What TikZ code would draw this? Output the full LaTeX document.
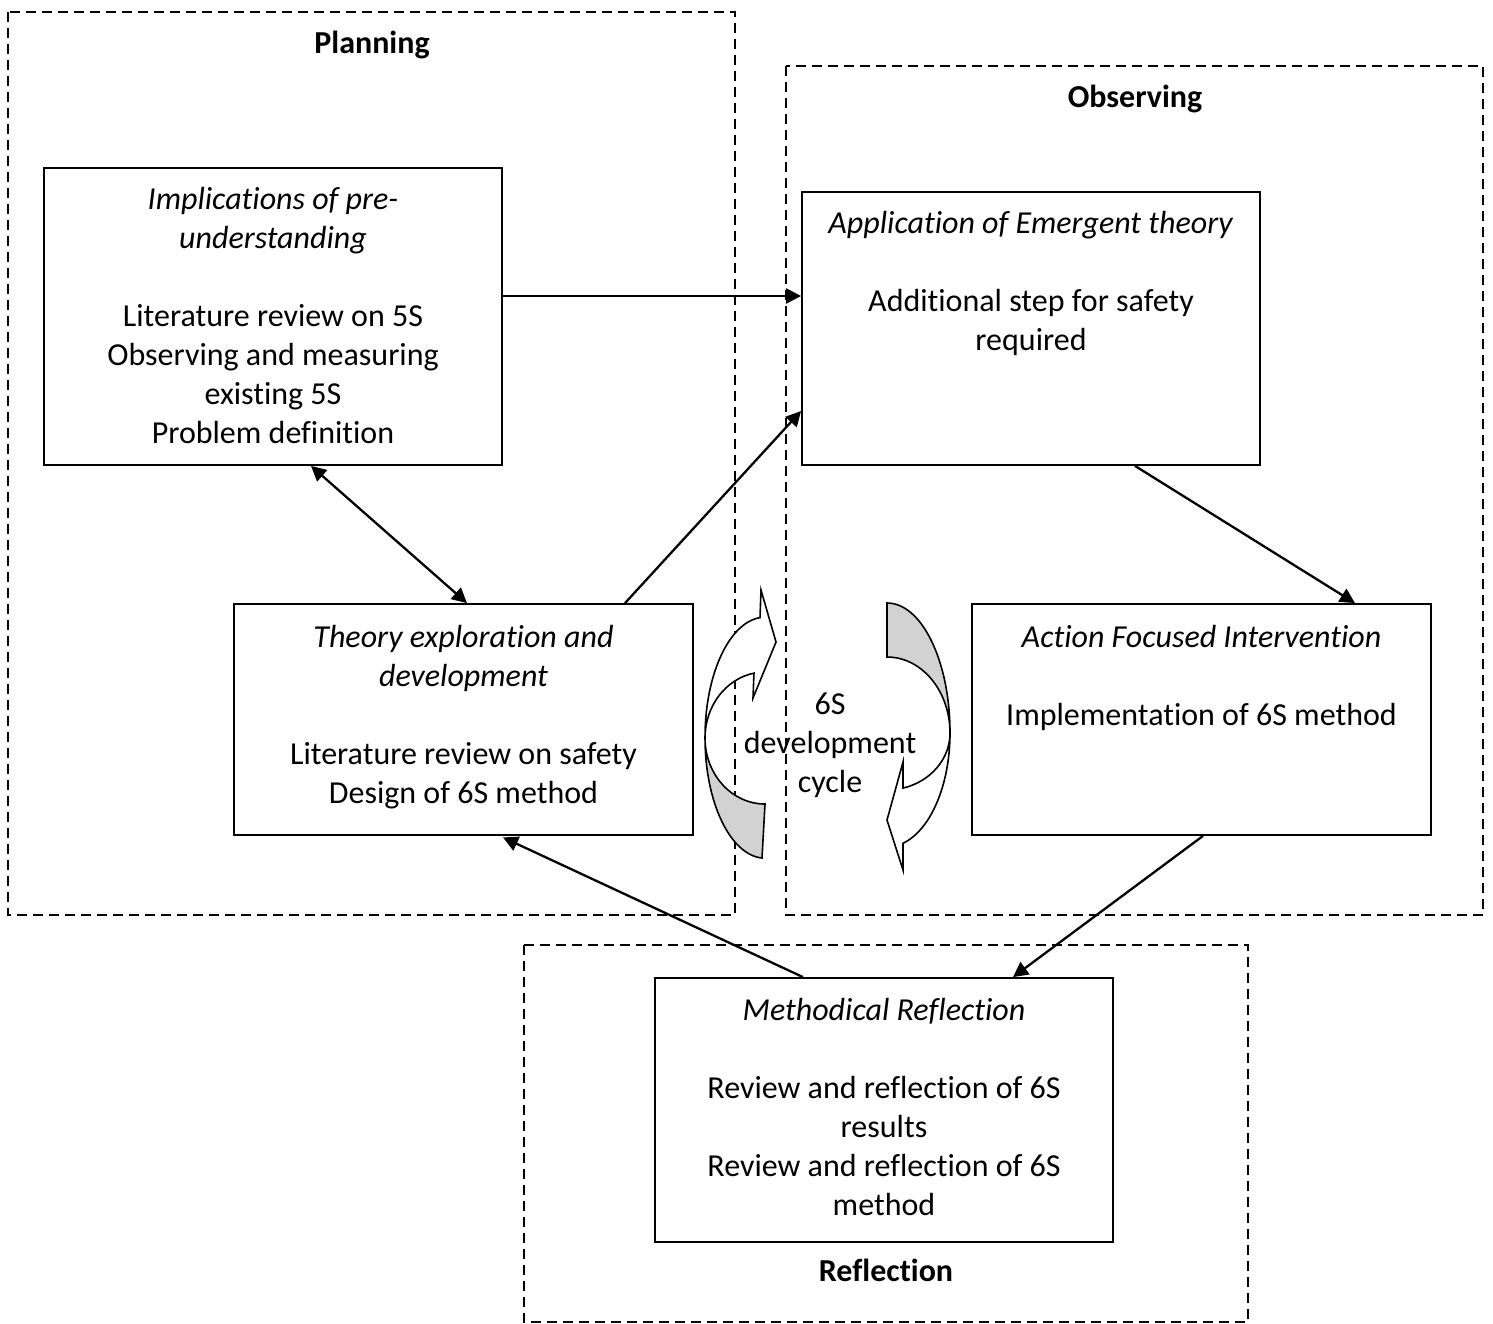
\documentclass[tikz,border=0pt]{standalone}
\usepackage{fontspec}
\setmainfont[Ligatures=NoCommon]{Carlito}
\usetikzlibrary{arrows.meta,calc}
\definecolor{bandgray}{RGB}{210,210,210}

\begin{document}
\begin{tikzpicture}[x=0.5pt,y=0.5pt,
  frame/.style={draw, dash pattern=on 5pt off 3pt, line width=0.7pt},
  box/.style={draw, line width=0.9pt, inner sep=0pt, minimum width=229pt},
  txt/.style={anchor=north, inner sep=0pt, align=center, font=\fontsize{16pt}{19.5pt}\selectfont},
  ttl/.style={anchor=base, inner sep=0pt, font=\fontsize{16pt}{19.5pt}\selectfont\bfseries},
  tip/.tip={Triangle[length=7.5pt,width=7.5pt]},
  link/.style={line width=1.15pt, -tip},
  band/.style={draw, line width=0.8pt, line join=miter},
]
\useasboundingbox (0,0) rectangle (1493,-1323);

% dashed phase frames
\draw[frame] (8,-12) rectangle (735,-915);
\draw[frame] (786,-66) rectangle (1483,-915);
\draw[frame] (524,-945) rectangle (1248,-1322);

\node[ttl] (planT) at (372,-53) {Planning};
\node[ttl] (obsT) at (1135,-107) {Observing};
\node[ttl] (refT) at (886,-1281) {Reflection};

% boxes
\node[box, minimum height=148.5pt] (impl) at (273,-316.5) {};
\node[box, minimum height=136.5pt] (appl) at (1031,-328.5) {};
\node[box, minimum width=229.5pt, minimum height=115.5pt] (theo) at (463.5,-719.5) {};
\node[box, minimum width=229.5pt, minimum height=115.5pt] (act) at (1201.5,-719.5) {};
\node[box, minimum height=132pt] (meth) at (884,-1110) {};

% box texts
\node[txt] (implT) at (273,-182) {\strut\textit{Implications of pre-}\\\textit{understanding}\\[19.5pt]
  Literature review on 5S\\Observing and measuring\\existing 5S\\Problem definition};
\node[txt] (applT) at (1031,-206) {\strut\textit{Application of Emergent theory}\\[19.5pt]
  Additional step for safety\\required};
\node[txt] (theoT) at (463.5,-620) {\strut\textit{Theory exploration and}\\\textit{development}\\[19.5pt]
  Literature review on safety\\Design of 6S method};
\node[txt] (actT) at (1201.5,-620) {\strut\textit{Action Focused Intervention}\\[19.5pt]
  Implementation of 6S method};
\node[txt] (methT) at (884,-993) {\strut\textit{Methodical Reflection}\\[19.5pt]
  Review and reflection of 6S\\results\\Review and reflection of 6S\\method};

% curved cycle arrow, left (pointing up and right)
\draw[band, fill=bandgray] (705,-738) arc[start angle=180, end angle=270, x radius=30pt, y radius=33pt]
  -- (762,-858) arc[start angle=267.1, end angle=180, x radius=30pt, y radius=60pt] -- cycle;
\draw[band, fill=white] (705,-738) arc[start angle=180, end angle=100.6, x radius=30pt, y radius=33pt]
  -- (753,-698) -- (776,-642) -- (761,-590) -- (760,-617.6)
  arc[start angle=94.8, end angle=180, x radius=30pt, y radius=60pt] -- cycle;

% curved cycle arrow, right (pointing down and left)
\draw[band, fill=bandgray] (887,-603) arc[start angle=90, end angle=0, x radius=31.5pt, y radius=65pt]
  arc[start angle=0, end angle=90, x radius=31.5pt, y radius=38pt] -- cycle;
\draw[band, fill=white] (950,-733) arc[start angle=0, end angle=-75.3, x radius=31.5pt, y radius=57pt]
  -- (903,-870) -- (887,-820) -- (903,-762) -- (903,-788.1)
  arc[start angle=-75.3, end angle=0, x radius=31.5pt, y radius=28.5pt] -- cycle;

\node[txt] (cyc) at (830,-687) {\strut 6S\\development\\cycle};

% connectors
\coordinate (ab) at ($(impl.east)+(0,20.5)$);
\draw[link] (ab) -- (ab -| appl.west);
\draw[link] ($(theo.north)+(161.5,0)$) -- ($(appl.west)+(0,-82.5)$);
\draw[link, tip-tip] ($(impl.south)+(38,0)$) -- ($(theo.north)+(3.5,0)$);
\draw[link] ($(appl.south)+(104,0)$) -- ($(act.north)+(153.5,0)$);
\draw[link] ($(act.south)+(1.5,0)$) -- ($(meth.north)+(129,0)$);
\draw[link] ($(meth.north)+(-81,0)$) -- ($(theo.south)+(39.5,-1.5)$);
\end{tikzpicture}
\end{document}
